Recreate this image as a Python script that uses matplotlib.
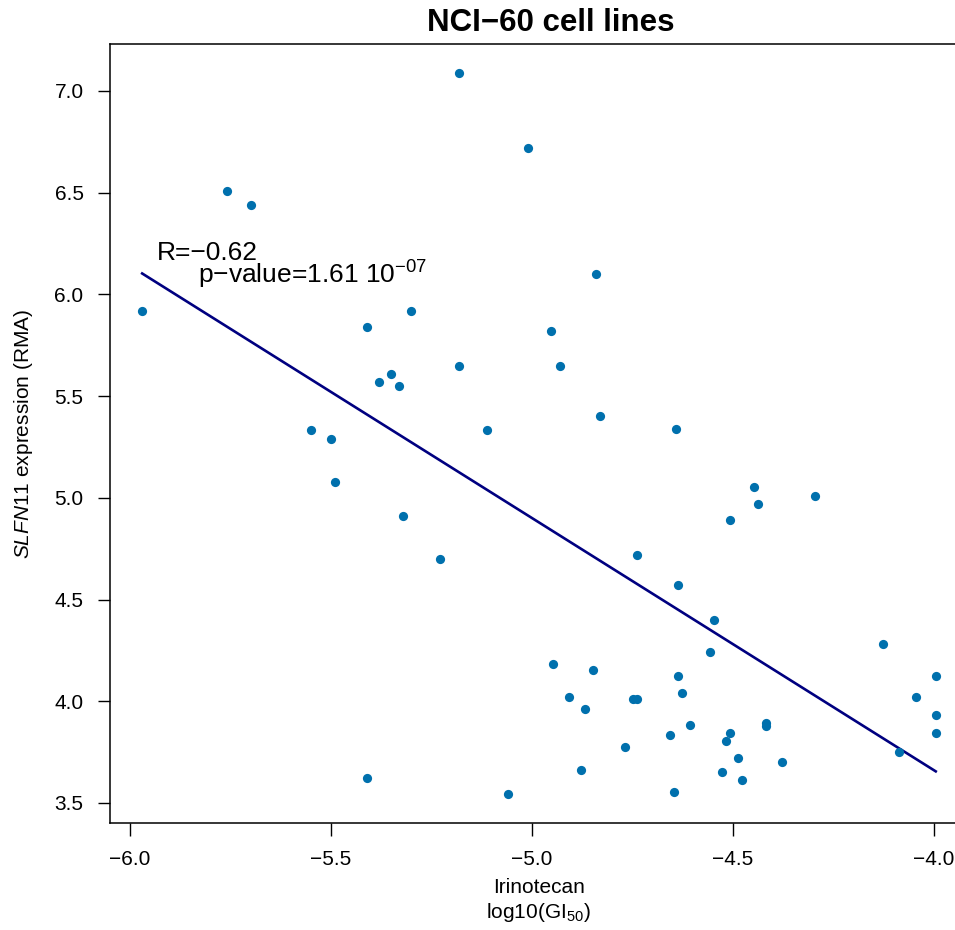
import numpy as np
import matplotlib
matplotlib.use('Agg')
import matplotlib.pyplot as plt

plt.rcParams['font.family'] = ['Liberation Sans', 'DejaVu Sans']
plt.rcParams['mathtext.fontset'] = 'custom'
plt.rcParams['mathtext.rm'] = 'Liberation Sans'
plt.rcParams['mathtext.it'] = 'Liberation Sans:italic'

# Irinotecan log10(GI50) vs SLFN11 expression
gi50 = np.array([-5.181, -5.010, -5.759, -5.699, -5.969, -5.410, -5.300, -4.952,
                 -5.180, -5.380, -5.349, -5.329, -5.550, -5.500, -5.489, -5.110,
                 -4.840, -4.930, -4.830, -4.640, -5.319, -5.229, -4.446, -4.436,
                 -4.507, -4.296, -4.738, -4.636, -4.547, -4.557, -4.126, -4.948,
                 -4.847, -4.636, -3.995, -4.908, -4.749, -4.737, -4.626, -4.045,
                 -4.868, -3.995, -4.607, -4.416, -4.416, -4.657, -4.507, -3.995,
                 -4.767, -4.517, -4.086, -4.486, -4.377, -4.878, -4.527, -4.477,
                 -5.409, -5.058, -4.647])
expr = np.array([7.088, 6.718, 6.508, 6.440, 5.920, 5.840, 5.920, 5.820,
                 5.649, 5.571, 5.610, 5.551, 5.332, 5.291, 5.079, 5.332,
                 6.100, 5.650, 5.402, 5.340, 4.910, 4.701, 5.052, 4.970,
                 4.891, 5.010, 4.720, 4.571, 4.401, 4.242, 4.283, 4.182,
                 4.152, 4.123, 4.123, 4.022, 4.013, 4.013, 4.042, 4.022,
                 3.962, 3.932, 3.883, 3.895, 3.880, 3.833, 3.843, 3.843,
                 3.773, 3.803, 3.752, 3.722, 3.703, 3.662, 3.652, 3.613,
                 3.624, 3.542, 3.552])

r_text = "R=\u22120.62"
p_text = "p\u2212value=1.61 10$^{-07}$"

fig = plt.figure(figsize=(9.55, 9.3), dpi=100)
W, H = 955, 930
ax = fig.add_axes([110 / W, (H - 823.3) / H, 857.5 / W, (823.3 - 44.2) / H])

ax.scatter(gi50, expr, s=44, color='#0070AD', linewidths=0, zorder=3)

slope, icpt = np.polyfit(gi50, expr, 1)
xs = np.array([gi50.min(), gi50.max()])
ax.plot(xs, icpt + slope * xs, color='#000080', lw=1.9, zorder=2)

ax.text(-5.933, 6.168, r_text, fontsize=19, ha='left', va='baseline')
ax.text(-5.829, 6.054, p_text, fontsize=19, ha='left', va='baseline')

fmt = matplotlib.ticker.FuncFormatter(lambda v, pos: f"{v:.1f}".replace('-', '\u2212'))
ax.set_xlim(-6.049, -3.916)
ax.set_ylim(3.40, 7.23)
ax.set_xticks([-6.0, -5.5, -5.0, -4.5, -4.0])
ax.set_yticks([3.5, 4.0, 4.5, 5.0, 5.5, 6.0, 6.5, 7.0])
ax.xaxis.set_major_formatter(fmt)
ax.yaxis.set_major_formatter(fmt)
ax.tick_params(direction='out', length=9, width=1, pad=10, labelsize=15)
for sp in ax.spines.values():
    sp.set_linewidth(1.1)

ax.set_xlabel("Irinotecan\nlog10(GI$_{50}$)", fontsize=15, labelpad=7)
ax.set_ylabel("$\\mathit{SLFN11}$ expression (RMA)", fontsize=15, labelpad=14)

fig.text(551 / W, 1 - 31 / H, "NCI\u221260 cell lines", fontsize=22.5,
         fontweight='bold', ha='center', va='baseline')

fig.savefig('out.png', dpi=100)
